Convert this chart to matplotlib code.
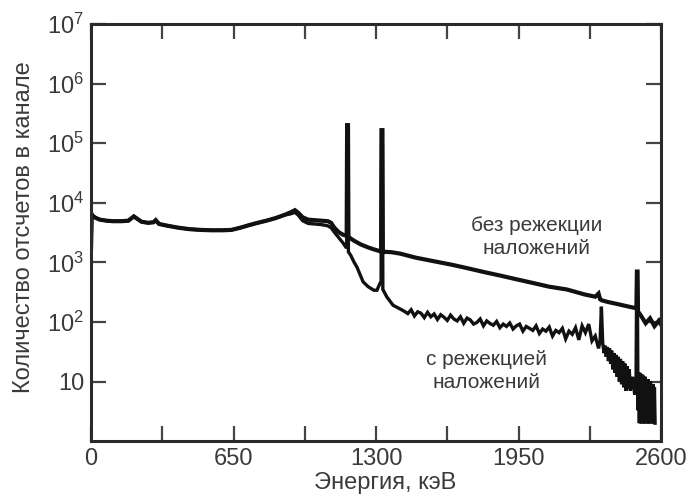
import matplotlib
matplotlib.use('Agg')
import matplotlib.pyplot as plt
from matplotlib.ticker import FixedLocator, NullLocator

# общий участок спектра (до комптоновского края кривые совпадают)
energy_common = [0, 3, 8, 20, 40, 70, 100, 140, 170, 195, 210, 230, 260, 285, 295, 310,
                 350, 400, 450, 500, 550, 600, 640, 680, 720, 760, 800, 840, 880]
counts_common = [1800, 6400, 6000, 5600, 5200, 5000, 4900, 4900, 5000, 5900, 5400, 4800,
                 4600, 4700, 5100, 4400, 4100, 3800, 3600, 3500, 3450, 3450, 3500, 3800,
                 4200, 4600, 5000, 5500, 6200]

# без режекции наложений
energy_no_rej = [910, 930, 945, 965, 990, 1020, 1050, 1080, 1095, 1110, 1130, 1150, 1162,
                 1166, 1168, 1172, 1174, 1185, 1200, 1230, 1260, 1290, 1315, 1323, 1325,
                 1329, 1331, 1340, 1370, 1410, 1480, 1560, 1640, 1715, 1790, 1866, 1940,
                 2016, 2090, 2171, 2250, 2300, 2315, 2322, 2330, 2360, 2400, 2440, 2470,
                 2488, 2490, 2493, 2495, 2510, 2530, 2550, 2570, 2590, 2600]
counts_no_rej = [6900, 7500, 6800, 5700, 5200, 5100, 5000, 4900, 4600, 3800, 3200, 2900,
                 2800, 2800, 200000, 200000, 2700, 2500, 2300, 2000, 1800, 1650, 1550,
                 1500, 165000, 165000, 1450, 1500, 1480, 1400, 1200, 1050, 920, 800, 690,
                 600, 520, 450, 390, 350, 290, 265, 300, 240, 230, 215, 200, 185, 175,
                 170, 700, 700, 150, 125, 95, 115, 85, 105, 90]

# с режекцией наложений: комптоновский край и пики
energy_rej = [910, 930, 945, 965, 990, 1020, 1050, 1080, 1095, 1110,
              1130, 1150, 1162, 1166, 1168, 1172, 1174, 1185, 1200, 1213,
              1241, 1264, 1290, 1304, 1315, 1323, 1325, 1329, 1331, 1350,
              1378, 1410]
counts_rej = [6500, 6900, 6200, 5000, 4500, 4400, 4300, 4100, 3800, 3200,
              2600, 2100, 1800, 1800, 200000, 200000, 1500, 1300, 1000, 830,
              470, 390, 340, 340, 420, 480, 165000, 165000, 350, 260,
              190, 165]

# с режекцией: шумная полка
energy_rej_band = [1430, 1445, 1460, 1475, 1490, 1505, 1520, 1535, 1550, 1565,
                   1580, 1595, 1610, 1625, 1640, 1655, 1670, 1685, 1700, 1715,
                   1730, 1745, 1760, 1775, 1790, 1805, 1820, 1835, 1850, 1865,
                   1880, 1895, 1910, 1925, 1940, 1955, 1970, 1985, 2000, 2015,
                   2030, 2045, 2060, 2075, 2090, 2105, 2120, 2135, 2150, 2165,
                   2180, 2195, 2210, 2225, 2240, 2255, 2270, 2285, 2300, 2315]
counts_rej_band = [150, 138, 160, 126, 148, 140, 118, 145, 122, 136,
                   110, 132, 120, 106, 130, 112, 104, 122, 95, 116,
                   108, 92, 98, 112, 86, 104, 94, 88, 102, 80,
                   92, 84, 96, 76, 86, 92, 70, 84, 78, 72,
                   86, 64, 76, 70, 82, 58, 72, 66, 78, 52,
                   70, 62, 80, 50, 86, 66, 92, 48, 58, 36]

# с режекцией: хвост и пик суммирования
energy_rej_tail = [2322, 2328, 2334, 2340, 2345, 2350, 2355, 2360, 2365, 2370,
                   2375, 2380, 2385, 2390, 2395, 2400, 2405, 2410, 2415, 2420,
                   2425, 2430, 2435, 2440, 2445, 2450, 2455, 2460, 2470, 2480,
                   2486, 2489, 2492, 2495, 2498, 2501, 2504, 2507, 2510, 2513,
                   2516, 2519, 2522, 2525, 2528, 2531, 2534, 2537, 2540, 2543,
                   2546, 2549, 2552, 2555, 2558, 2561, 2564, 2567, 2570, 2573]
counts_rej_tail = [48, 180, 44, 30, 40, 26, 38, 22, 36, 20,
                   33, 16, 30, 14, 28, 12, 26, 10, 24, 9,
                   22, 8, 20, 7, 18, 7.5, 16, 7, 12, 6,
                   10, 600, 600, 3.3, 14, 2, 14, 2, 13, 2,
                   13, 2, 12, 2, 12, 2, 11, 2, 11, 2,
                   10, 2, 10, 2, 9, 2, 9, 2, 8, 2]

x_major = [0, 650, 1300, 1950, 2600]
x_minor = [325, 975, 1625, 2275]
y_ticks = [10, 1e2, 1e3, 1e4, 1e5, 1e6, 1e7]
y_labels = ['10', r'$\mathregular{10^2}$', r'$\mathregular{10^3}$', r'$\mathregular{10^4}$',
            r'$\mathregular{10^5}$', r'$\mathregular{10^6}$', r'$\mathregular{10^7}$']

plt.rcParams['font.family'] = ['Liberation Sans', 'DejaVu Sans']
plt.rcParams['mathtext.fontset'] = 'custom'
plt.rcParams['mathtext.rm'] = 'Liberation Sans'

text_color = '#3a3a3a'
line_color = '#111111'

fig = plt.figure(figsize=(6.9, 4.99), dpi=100)
ax = fig.add_axes([0.132, 0.116, 0.826, 0.836])

ax.plot(energy_common + energy_no_rej, counts_common + counts_no_rej,
        color=line_color, lw=3.0, solid_joinstyle='miter')
ax.plot(energy_common + energy_rej + energy_rej_band + energy_rej_tail,
        counts_common + counts_rej + counts_rej_band + counts_rej_tail,
        color=line_color, lw=2.4, solid_joinstyle='miter')

ax.set_yscale('log')
ax.set_xlim(0, 2600)
ax.set_ylim(1, 1e7)

ax.xaxis.set_major_locator(FixedLocator(x_major))
ax.xaxis.set_minor_locator(FixedLocator(x_minor))
ax.yaxis.set_major_locator(FixedLocator(y_ticks))
ax.yaxis.set_minor_locator(NullLocator())
ax.set_yticklabels(y_labels)

for sp in ax.spines.values():
    sp.set_linewidth(2.2)
    sp.set_color('#2a2a2a')

ax.tick_params(which='both', direction='in', length=11, width=1.6, color='#444444',
               top=True, right=True, labelsize=17, labelcolor=text_color)
ax.tick_params(axis='x', pad=5)
ax.tick_params(axis='y', pad=5)

ax.set_xlabel('Энергия, кэВ', fontsize=17, color=text_color)
ax.set_ylabel('Количество отсчетов в канале', fontsize=17, color=text_color)
ax.xaxis.set_label_coords(0.516, -0.075)
ax.yaxis.set_label_coords(-0.098, 0.513)

ax.text(2034, 10 ** 3.43, 'без режекции\nналожений', fontsize=15, color=text_color,
        ha='center', va='center', linespacing=1.25)
ax.text(1806, 10 ** 1.175, 'с режекцией\nналожений', fontsize=15, color=text_color,
        ha='center', va='center', linespacing=1.25)

fig.savefig('out.png', dpi=100, facecolor='white')
